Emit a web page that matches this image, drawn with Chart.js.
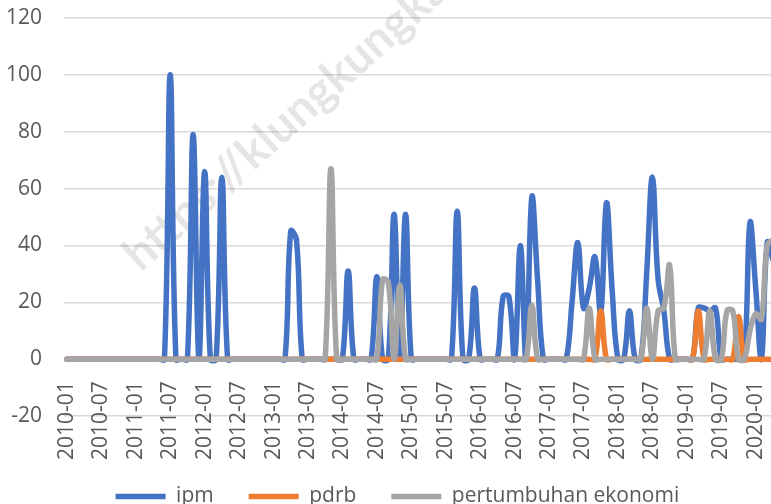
<!DOCTYPE html>
<html>
<head>
<meta charset="utf-8">
<script src="https://cdn.jsdelivr.net/npm/chart.js@4.4.1/dist/chart.umd.min.js"></script>
<style>
  html, body { margin: 0; padding: 0; background: #fff; overflow: hidden; }
  #wrap { width: 771px; height: 504px; overflow: hidden; position: relative; }
  canvas { display: block; }
</style>
</head>
<body>
<div id="wrap"><canvas id="chart" width="827" height="517"></canvas></div>
<script>
// monthly categories, 2010-01 .. 2020-04
const months = [];
for (let y = 2010; y <= 2020; y++) {
  for (let m = 1; m <= 12; m++) {
    if (y === 2020 && m > 4) break;
    months.push(y + '-' + String(m).padStart(2, '0'));
  }
}

// values (one row per year)
const ipm = [
  0, 0, 0, 0, 0, 0, 0, 0, 0, 0, 0, 0,
  0, 0, 0, 0, 0, 0, 100, 0, 0, 0, 79, 0,
  66, 0, 0, 64, 0, 0, 0, 0, 0, 0, 0, 0,
  0, 0, 0, 45, 42, 0, 0, 0, 0, 0, 0, 0,
  0, 31, 0, 0, 0, 0, 29, 0, 0, 51, 0, 51,
  0, 0, 0, 0, 0, 0, 0, 0, 52, 0, 0, 25,
  0, 0, 0, 0, 22, 22, 0, 40, 0, 57, 28, 0,
  0, 0, 0, 0, 20, 41, 18, 25, 36, 16, 55, 24,
  0, 0, 17, 0, 0, 30, 64, 28, 17, 0, 0, 0,
  0, 0, 18, 18, 17, 18, 0, 0, 0, 0, 0, 48,
  25, 0, 41, 35
];

const pdrb = [
  0, 0, 0, 0, 0, 0, 0, 0, 0, 0, 0, 0,
  0, 0, 0, 0, 0, 0, 0, 0, 0, 0, 0, 0,
  0, 0, 0, 0, 0, 0, 0, 0, 0, 0, 0, 0,
  0, 0, 0, 0, 0, 0, 0, 0, 0, 0, 0, 0,
  0, 0, 0, 0, 0, 0, 0, 0, 0, 0, 0, 0,
  0, 0, 0, 0, 0, 0, 0, 0, 0, 0, 0, 0,
  0, 0, 0, 0, 0, 0, 0, 0, 0, 0, 0, 0,
  0, 0, 0, 0, 0, 0, 0, 0, 0, 17, 0, 0,
  0, 0, 0, 0, 0, 0, 0, 0, 0, 0, 0, 0,
  0, 0, 17, 0, 0, 0, 0, 0, 0, 15, 0, 0,
  0, 0, 0, 0
];

const pertumbuhan = [
  0, 0, 0, 0, 0, 0, 0, 0, 0, 0, 0, 0,
  0, 0, 0, 0, 0, 0, 0, 0, 0, 0, 0, 0,
  0, 0, 0, 0, 0, 0, 0, 0, 0, 0, 0, 0,
  0, 0, 0, 0, 0, 0, 0, 0, 0, 0, 67, 0,
  0, 0, 0, 0, 0, 0, 0, 28, 27, 0, 26, 0,
  0, 0, 0, 0, 0, 0, 0, 0, 0, 0, 0, 0,
  0, 0, 0, 0, 0, 0, 0, 0, 0, 19, 0, 0,
  0, 0, 0, 0, 0, 0, 0, 18, 0, 0, 0, 0,
  0, 0, 0, 0, 0, 18, 0, 17, 18, 33, 0, 0,
  0, 0, 0, 0, 17, 0, 0, 17, 17, 0, 0, 10,
  16, 14, 40, 42
];

const seriesNames = ['ipm', 'pdrb', 'pertumbuhan ekonomi'];
const seriesColors = ['#4472C4', '#ED7D31', '#A5A5A5'];
const yTicks = { min: -20, max: 120, step: 20 };
const watermarkText = 'https://klungkungkab.bps.go.id';

const textColor = '#595959';
const fontFamily = '"Open Sans", "Liberation Sans", sans-serif';

// faint diagonal watermark behind the lines
const watermark = {
  id: 'watermark',
  beforeDatasetsDraw(chart) {
    const ctx = chart.ctx;
    ctx.save();
    ctx.translate(141, 273);
    ctx.rotate(-42 * Math.PI / 180);
    ctx.font = 'bold 47px Lato, sans-serif';
    ctx.fillStyle = 'rgba(0, 0, 0, 0.1)';
    ctx.textBaseline = 'alphabetic';
    ctx.fillText(watermarkText, 0, 0);
    ctx.restore();
  }
};

const makeDataset = (i, values) => ({
  label: seriesNames[i],
  data: values,
  borderColor: seriesColors[i],
  backgroundColor: seriesColors[i],
  borderWidth: 5.5,
  borderCapStyle: 'round',
  borderJoinStyle: 'round',
  pointRadius: 0,
  tension: 0.4,
  fill: false,
  order: 3 - i
});

new Chart(document.getElementById('chart'), {
  type: 'line',
  data: {
    labels: months,
    datasets: [
      makeDataset(0, ipm),
      makeDataset(1, pdrb),
      makeDataset(2, pertumbuhan)
    ]
  },
  options: {
    responsive: false,
    devicePixelRatio: 1,
    animation: false,
    layout: { padding: { top: 18, right: 32.2, bottom: 0, left: 0 } },
    plugins: {
      tooltip: { enabled: false },
      legend: {
        position: 'bottom',
        title: { display: true, text: '', padding: { top: 0, bottom: 23 }, font: { size: 10 } },
        labels: {
          usePointStyle: true,
          pointStyle: 'line',
          pointStyleWidth: 50,
          padding: 35,
          color: textColor,
          font: { family: fontFamily, size: 21 },
          sort: (a, b) => a.datasetIndex - b.datasetIndex
        }
      }
    },
    scales: {
      x: {
        type: 'category',
        position: { y: 0 },
        offset: true,
        grid: { display: false },
        border: { display: false },
        ticks: {
          autoSkip: false,
          minRotation: 90,
          maxRotation: 90,
          padding: 14,
          color: textColor,
          font: { family: fontFamily, size: 21 },
          callback: function (val, idx) {
            return idx % 6 === 0 ? this.getLabelForValue(val) : '';
          }
        }
      },
      y: {
        min: yTicks.min,
        max: yTicks.max,
        afterFit: (scale) => { scale.width = 64; },
        grid: { color: '#d9d9d9', lineWidth: 1.5, drawTicks: true, tickLength: 22, tickColor: 'transparent' },
        border: { display: false },
        ticks: {
          stepSize: yTicks.step,
          padding: 0,
          color: textColor,
          font: { family: fontFamily, size: 21 }
        }
      },
      // empty right-hand strip, only keeps the plot edge where it belongs
      yRight: {
        type: 'linear',
        position: 'right',
        afterFit: (scale) => { scale.width = 19; },
        grid: { display: false },
        border: { display: false },
        ticks: { display: false }
      }
    }
  },
  plugins: [watermark]
});
</script>
</body>
</html>
